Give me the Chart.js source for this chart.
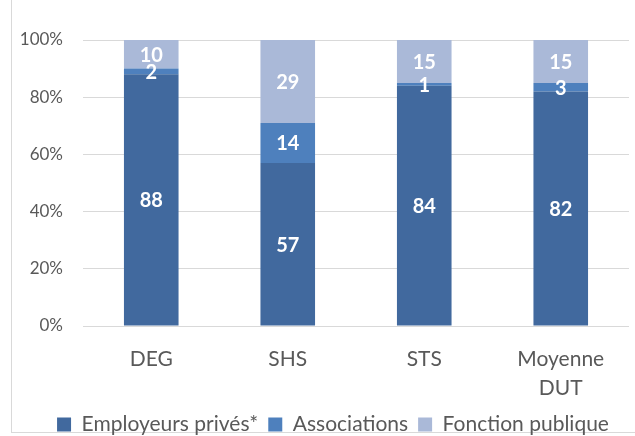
<!DOCTYPE html>
<html>
<head>
<meta charset="utf-8">
<script src="https://cdn.jsdelivr.net/npm/chart.js@4"></script>
<style>
  html, body { margin: 0; padding: 0; background: #fff; overflow: hidden; }
  #wrap { position: relative; width: 635px; height: 436px; overflow: hidden; }
  #frame { position: absolute; left: 11px; top: -1px; width: 630px; height: 434px; border: 1px solid #d9d9d9; box-sizing: border-box; }
  canvas { position: absolute; left: 0; top: 0; }
</style>
</head>
<body>
<div id="wrap">
  <div id="frame"></div>
  <canvas id="c" width="635" height="445"></canvas>
</div>
<script>
// data
const categories = ['DEG', 'SHS', 'STS', ['Moyenne', 'DUT']];
const prives = [88, 57, 84, 82];
const associations = [2, 14, 1, 3];
const fonctionPublique = [10, 29, 15, 15];
const yTicks = [0, 20, 40, 60, 80, 100];

const fontFam = 'Lato, "Open Sans", sans-serif';
const grey = '#595959';

// white numbers in the middle of each segment
const segLabels = {
    id: 'segLabels',
    afterDatasetsDraw(chart) {
        const ctx = chart.ctx;
        ctx.save();
        ctx.fillStyle = '#fff';
        ctx.font = 'bold 20px ' + fontFam;
        ctx.textAlign = 'center';
        ctx.textBaseline = 'middle';
        chart.data.datasets.forEach(function (ds, i) {
            const meta = chart.getDatasetMeta(i);
            meta.data.forEach(function (bar, j) {
                const mid = (bar.y + bar.base) / 2;
                ctx.fillText(String(ds.data[j]), bar.x, mid + 1);
            });
        });
        ctx.restore();
    }
};

// legend sits a bit right of the canvas centre in the original
const legendShift = {
    id: 'legendShift',
    afterLayout(chart) {
        if (chart.legend) {
            chart.legend.left += 37;
        }
    }
};

const ctx = document.getElementById('c').getContext('2d');

new Chart(ctx, {
    type: 'bar',
    data: {
        labels: categories,
        datasets: [
            { label: 'Employeurs privés*', data: prives, backgroundColor: '#41699e' },
            { label: 'Associations', data: associations, backgroundColor: '#4e80bd' },
            { label: 'Fonction publique', data: fonctionPublique, backgroundColor: '#aab9d8' }
        ]
    },
    options: {
        animation: false,
        responsive: false,
        layout: { padding: { left: 0, right: 6, top: 40, bottom: 0 } },
        datasets: { bar: { barPercentage: 0.8, categoryPercentage: 0.5 } },
        scales: {
            x: {
                stacked: true,
                grid: { display: false },
                border: { display: false },
                ticks: { color: grey, font: { family: fontFam, size: 21, lineHeight: 1.38 }, padding: 11, maxRotation: 0 },
                afterFit: function (s) { s.height = 78; }
            },
            y: {
                stacked: true,
                min: 0,
                max: 100,
                afterBuildTicks: function (s) { s.ticks = yTicks.map(v => ({ value: v })); },
                grid: { color: '#d9d9d9', lineWidth: 1, drawTicks: false },
                border: { display: false },
                ticks: {
                    color: grey,
                    font: { family: fontFam, size: 17 },
                    padding: 20,
                    callback: v => v + '%'
                },
                afterFit: function (s) { s.width = 83; }
            }
        },
        plugins: {
            legend: {
                position: 'bottom',
                labels: {
                    color: grey,
                    font: { family: fontFam, size: 21 },
                    boxWidth: 14,
                    boxHeight: 14,
                    padding: 10
                }
            },
            tooltip: { enabled: false }
        }
    },
    plugins: [segLabels, legendShift]
});
</script>
</body>
</html>
